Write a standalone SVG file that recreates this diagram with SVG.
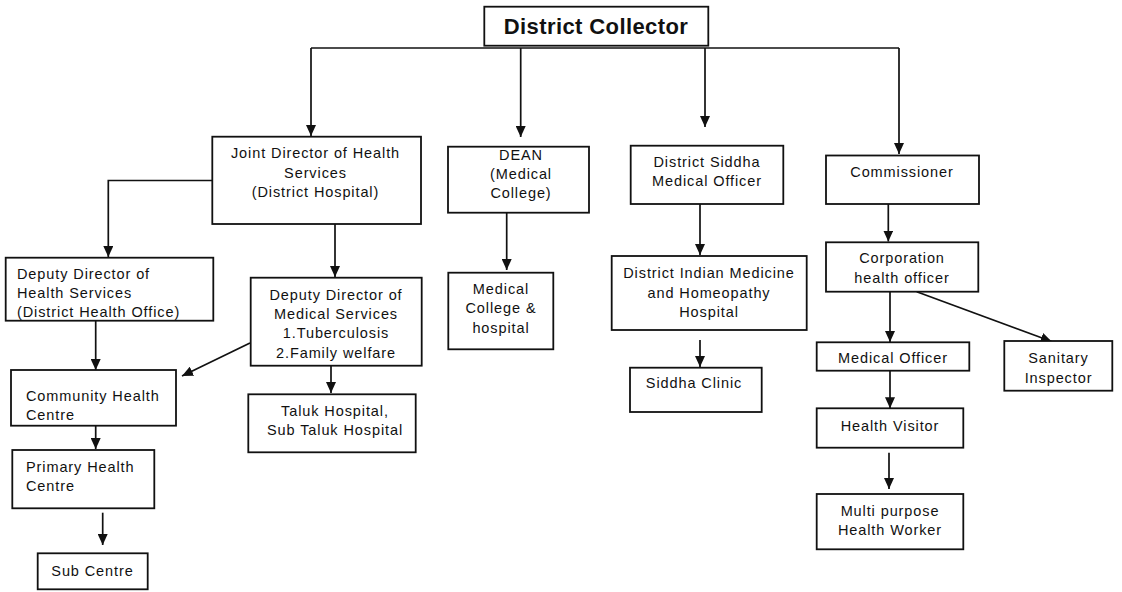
<svg xmlns="http://www.w3.org/2000/svg" width="1122" height="592" viewBox="0 0 1122 592">
<style>
.box{fill:#fff;stroke:#111;stroke-width:1.8}
.t{font-family:"Liberation Sans",Arial,sans-serif;font-size:14.5px;letter-spacing:0.9px;fill:#111;text-anchor:middle}
.l{text-anchor:start}
.title{font-weight:bold;font-size:22px;letter-spacing:0.4px}
.c{fill:none;stroke:#111;stroke-width:1.7}
</style>
<defs>
<marker id="ah" viewBox="0 0 11 10" refX="11" refY="5" markerWidth="11" markerHeight="10" markerUnits="userSpaceOnUse" orient="auto">
<path d="M0,0 L11,5 L0,10 z" fill="#111"/>
</marker>
</defs>
<rect width="1122" height="592" fill="#fff"/>
<g id="connectors">
<path class="c" d="M311,48 H899"/>
<path class="c" d="M311,48 V136" marker-end="url(#ah)"/>
<path class="c" d="M520.7,48 V137" marker-end="url(#ah)"/>
<path class="c" d="M705,48 V127" marker-end="url(#ah)"/>
<path class="c" d="M899,48 V154" marker-end="url(#ah)"/>
<path class="c" d="M212,180.5 H108.3 V257" marker-end="url(#ah)"/>
<path class="c" d="M335,224 V277" marker-end="url(#ah)"/>
<path class="c" d="M95.7,321 V370" marker-end="url(#ah)"/>
<path class="c" d="M250,343 L182,376" marker-end="url(#ah)"/>
<path class="c" d="M331,358 V393" marker-end="url(#ah)"/>
<path class="c" d="M95.7,425.7 V449" marker-end="url(#ah)"/>
<path class="c" d="M102.7,512.7 V545" marker-end="url(#ah)"/>
<path class="c" d="M506.7,212.7 V270" marker-end="url(#ah)"/>
<path class="c" d="M700,204 V255" marker-end="url(#ah)"/>
<path class="c" d="M700,340 V367" marker-end="url(#ah)"/>
<path class="c" d="M888.3,204 V241.5" marker-end="url(#ah)"/>
<path class="c" d="M890,291.7 V342" marker-end="url(#ah)"/>
<path class="c" d="M916.7,291.7 L1051.7,341.5" marker-end="url(#ah)"/>
<path class="c" d="M890,370.7 V408.3" marker-end="url(#ah)"/>
<path class="c" d="M889,452.7 V489" marker-end="url(#ah)"/>
</g>
<g id="district-collector">
<rect class="box" x="484.3" y="6.7" width="224" height="39"/>
<text class="t title" x="596" y="34">District Collector</text>
</g>
<g id="joint-director">
<rect class="box" x="212.3" y="136.7" width="208.7" height="87.3"/>
<text class="t" x="315.5" y="158">Joint Director of Health</text>
<text class="t" x="315.5" y="177.5">Services</text>
<text class="t" x="315.5" y="197">(District Hospital)</text>
</g>
<g id="deputy-director-health">
<rect class="box" x="5.7" y="257.7" width="207.6" height="63"/>
<text class="t l" x="17" y="279">Deputy Director of</text>
<text class="t l" x="17" y="298.3">Health Services</text>
<text class="t l" x="17" y="317.3">(District Health Office)</text>
</g>
<g id="deputy-director-medical">
<rect class="box" x="250.7" y="277.7" width="171" height="88"/>
<text class="t" x="336" y="300">Deputy Director of</text>
<text class="t" x="336" y="319">Medical Services</text>
<text class="t" x="336" y="338">1.Tuberculosis</text>
<text class="t" x="336" y="357.7">2.Family welfare</text>
</g>
<g id="community-health-centre">
<rect class="box" x="11" y="370" width="165" height="55.7"/>
<text class="t l" x="26" y="400.5">Community Health</text>
<text class="t l" x="26" y="420">Centre</text>
</g>
<g id="primary-health-centre">
<rect class="box" x="12.3" y="450" width="142" height="58.3"/>
<text class="t l" x="26" y="471.7">Primary Health</text>
<text class="t l" x="26" y="490.5">Centre</text>
</g>
<g id="sub-centre">
<rect class="box" x="37.7" y="553.3" width="110" height="36"/>
<text class="t" x="92.5" y="575.5">Sub Centre</text>
</g>
<g id="taluk-hospital">
<rect class="box" x="248.3" y="394.3" width="167.4" height="58"/>
<text class="t" x="335" y="416">Taluk Hospital,</text>
<text class="t" x="335" y="435">Sub Taluk Hospital</text>
</g>
<g id="dean">
<rect class="box" x="448" y="146.7" width="141" height="66"/>
<text class="t" x="521" y="160">DEAN</text>
<text class="t" x="521" y="179.3">(Medical</text>
<text class="t" x="521" y="198.3">College)</text>
</g>
<g id="medical-college">
<rect class="box" x="448.3" y="272.7" width="105" height="76.6"/>
<text class="t" x="501" y="294">Medical</text>
<text class="t" x="501" y="313.3">College &amp;</text>
<text class="t" x="501" y="332.7">hospital</text>
</g>
<g id="district-siddha">
<rect class="box" x="630.7" y="145.7" width="152.6" height="58.3"/>
<text class="t" x="707" y="166.7">District Siddha</text>
<text class="t" x="707" y="186">Medical Officer</text>
</g>
<g id="indian-medicine-hospital">
<rect class="box" x="611.7" y="256" width="195" height="74"/>
<text class="t" x="709" y="278.3">District Indian Medicine</text>
<text class="t" x="709" y="297.7">and Homeopathy</text>
<text class="t" x="709" y="316.7">Hospital</text>
</g>
<g id="siddha-clinic">
<rect class="box" x="630" y="367.7" width="131.7" height="44.3"/>
<text class="t" x="694" y="388">Siddha Clinic</text>
</g>
<g id="commissioner">
<rect class="box" x="826" y="155.5" width="153" height="48.5"/>
<text class="t" x="902" y="177">Commissioner</text>
</g>
<g id="corporation-health-officer">
<rect class="box" x="826" y="242.3" width="152.3" height="49.4"/>
<text class="t" x="902" y="263.3">Corporation</text>
<text class="t" x="902" y="282.7">health officer</text>
</g>
<g id="medical-officer">
<rect class="box" x="816.7" y="342.3" width="152.6" height="28.4"/>
<text class="t" x="893" y="363.3">Medical Officer</text>
</g>
<g id="sanitary-inspector">
<rect class="box" x="1004.3" y="341" width="108" height="49.7"/>
<text class="t" x="1058.5" y="363.3">Sanitary</text>
<text class="t" x="1058.5" y="383.3">Inspector</text>
</g>
<g id="health-visitor">
<rect class="box" x="816.7" y="408.3" width="146.6" height="39.4"/>
<text class="t" x="890" y="431">Health Visitor</text>
</g>
<g id="multi-purpose-health-worker">
<rect class="box" x="816.7" y="494" width="146.6" height="55.3"/>
<text class="t" x="890" y="516">Multi purpose</text>
<text class="t" x="890" y="535">Health Worker</text>
</g>
</svg>
